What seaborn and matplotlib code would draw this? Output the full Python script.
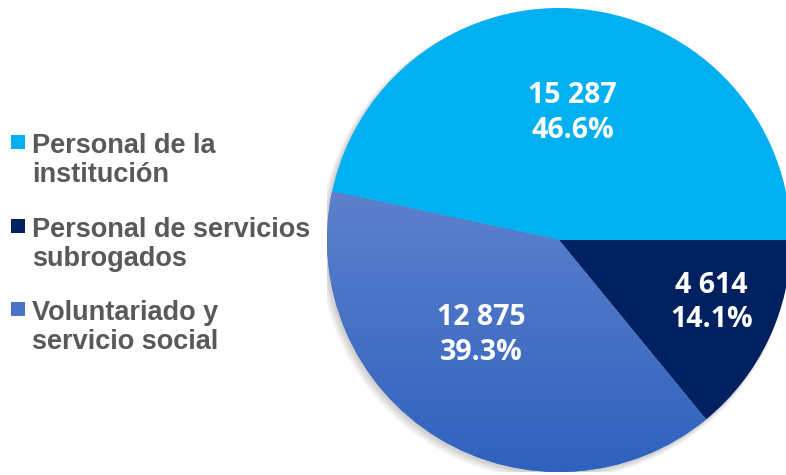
"""
Distribución del personal por tipo (pastel con leyenda a la izquierda).
"""

import numpy as np
import matplotlib.pyplot as plt
import seaborn as sns
from matplotlib.colors import LinearSegmentedColormap
from matplotlib.patches import Rectangle, Circle

# Datos
categorias = ["Personal de la\ninstitución", "Personal de servicios\nsubrogados", "Voluntariado y\nservicio social"]
valores = [15287, 4614, 12875]
etiquetas_valor = ["15 287", "4 614", "12 875"]
colores = ["#00B0F0", "#002060", "#4472C4"]

sns.set_theme(style="white")
plt.rcParams["font.family"] = ["Liberation Sans", "DejaVu Sans"]

W, H = 786, 475
fig = plt.figure(figsize=(W / 100, H / 100), dpi=100)
fig.patch.set_facecolor("white")

# Pastel: centro (559, 240) px, radio 232 px
cx, cy, r = 559, 240, 232
ax = fig.add_axes([(cx - r) / W, (H - cy - r) / H, 2 * r / W, 2 * r / H])

total = sum(valores)
inicio = 360 * valores[0] / total

# sombra suave abajo a la izquierda
for i in range(8):
    ax.add_patch(Circle((-0.006 - 0.002 * i, -0.008 - 0.002 * i), 1 + 0.002 * i,
                        color="black", alpha=0.025, lw=0, zorder=0))

wedges, _ = ax.pie(valores, colors=colores, startangle=inicio, counterclock=False,
                   radius=1, wedgeprops=dict(linewidth=0, zorder=1))

# degradado vertical en la porción de voluntariado
grad = np.linspace(0, 1, 256).reshape(-1, 1)
cmap = LinearSegmentedColormap.from_list("vol", ["#5D80CC", "#2F62BE"])
top = np.sin(np.radians(inicio))
im = ax.imshow(grad, cmap=cmap, extent=[-1, 1, -1, top], origin="upper",
               aspect="auto", zorder=1.5)
im.set_clip_path(wedges[2])

ax.set_xlim(-1, 1)
ax.set_ylim(-1, 1)
ax.set_aspect("equal")
ax.axis("off")

# Etiquetas de datos
distancias = [0.55, 0.71, 0.53]
ajuste_ang = [0, 3, -8]
for w, v, etq, d, da in zip(wedges, valores, etiquetas_valor, distancias, ajuste_ang):
    ang = np.radians((w.theta1 + w.theta2) / 2 + da)
    ax.text(d * np.cos(ang), d * np.sin(ang), f"{etq}\n{100 * v / total:.1f}%",
            ha="center", va="center", color="white", fontsize=20.5, fontweight="bold",
            family=["Open Sans", "DejaVu Sans"], linespacing=1.25, zorder=3)

# Leyenda manual
tops = [135, 219, 302]
for cat, col, t in zip(categorias, colores, tops):
    fc = col if col != "#4472C4" else "#4A72C6"
    fig.patches.append(Rectangle((11 / W, (H - t - 14) / H), 14 / W, 14 / H,
                                 transform=fig.transFigure, facecolor=fc, lw=0))
    fig.text(32 / W, (H - t + 2) / H, cat, ha="left", va="top",
             fontsize=19.5, fontweight="bold", color="#595959", linespacing=1.16)

fig.savefig("out.png", dpi=100)
